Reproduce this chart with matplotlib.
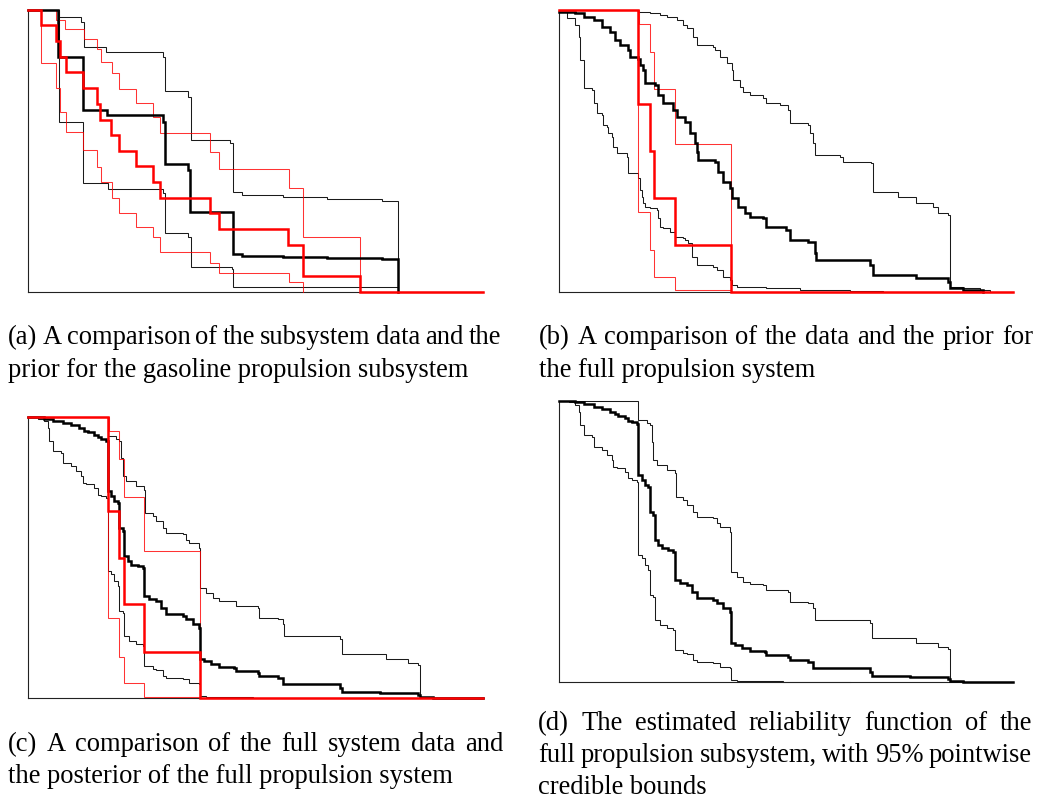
import matplotlib
matplotlib.use("Agg")
import matplotlib.pyplot as plt

plt.rcParams['font.family'] = ['Liberation Serif', 'DejaVu Serif']

# ---- (a) gasoline propulsion subsystem: data (black) vs prior (red) ----
a_dat_x = [0, 6.6, 12.0, 17.4, 29.7, 30.2, 35.2, 35.7, 45.1, 47.0, 56.1, 65.7, 77.8, 81.3]
a_dat_y = [1.0, 0.834, 0.645, 0.627, 0.604, 0.453, 0.432, 0.282, 0.134, 0.128, 0.124, 0.121, 0.117, 0.0]
a_dat_hi_x = [0, 6.8, 11.7, 12.3, 17.1, 29.7, 30.2, 35.2, 35.8, 44.4, 45.1, 47.0, 56.1, 65.7, 77.8, 81.3]
a_dat_hi_y = [1.0, 0.976, 0.959, 0.867, 0.852, 0.834, 0.714, 0.692, 0.538, 0.527, 0.353, 0.343, 0.337, 0.329, 0.323, 0.0]
a_dat_lo_x = [0, 6.8, 12.1, 17.6, 29.7, 30.2, 35.2, 35.8, 44.8, 45.1, 47.0, 81.3]
a_dat_lo_y = [1.0, 0.604, 0.385, 0.363, 0.349, 0.207, 0.193, 0.089, 0.079, 0.018, 0.015, 0.0]

a_pri_x = [0, 2.9, 6.1, 7.0, 8.3, 12.1, 15.2, 15.9, 18.3, 20.0, 23.8, 27.4, 29.0, 40.0, 42.0, 57.2, 60.4, 72.9, 100]
a_pri_y = [1.0, 0.947, 0.891, 0.834, 0.781, 0.722, 0.666, 0.609, 0.556, 0.501, 0.446, 0.391, 0.334, 0.280, 0.222, 0.166, 0.056, 0.0, 0.0]
a_pri_hi_x = [0, 6.2, 8.1, 12.3, 15.2, 16.1, 18.5, 20.0, 23.8, 27.4, 29.1, 40.1, 42.0, 57.3, 60.5, 72.9]
a_pri_hi_y = [1.0, 0.964, 0.931, 0.896, 0.860, 0.817, 0.775, 0.718, 0.669, 0.621, 0.562, 0.497, 0.434, 0.367, 0.195, 0.0]
a_pri_lo_x = [0, 2.9, 6.1, 7.0, 8.3, 12.1, 15.2, 16.1, 18.5, 20.0, 23.8, 27.4, 29.1, 40.1, 42.0, 57.3, 60.5]
a_pri_lo_y = [1.0, 0.811, 0.722, 0.639, 0.568, 0.503, 0.444, 0.391, 0.331, 0.278, 0.231, 0.193, 0.142, 0.101, 0.065, 0.036, 0.0]

# ---- (b) full propulsion system: data (black) vs prior (red) ----
b_dat_x = [0, 3.5, 5.4, 7.6, 9.4, 11.2, 12.3, 13.4, 15.3, 15.6, 17.5, 17.8, 18.6, 18.9, 21.1,
           21.9, 23.0, 25.2, 25.9, 27.7, 28.8, 29.9, 30.3, 30.7, 34.3, 35.1, 36.2, 37.6, 38.0,
           39.5, 40.9, 42.0, 45.0, 45.7, 50.1, 50.8, 54.9, 56.3, 56.7, 68.5, 69.2, 78.7, 85.7,
           86.1, 89.0, 93.4]
b_dat_y = [0.994, 0.988, 0.976, 0.964, 0.941, 0.923, 0.893, 0.876, 0.858, 0.834, 0.825, 0.805,
           0.787, 0.740, 0.734, 0.698, 0.669, 0.645, 0.621, 0.604, 0.562, 0.527, 0.497, 0.468,
           0.462, 0.426, 0.391, 0.367, 0.331, 0.302, 0.278, 0.266, 0.260, 0.231, 0.219, 0.183,
           0.178, 0.136, 0.112, 0.095, 0.059, 0.047, 0.036, 0.012, 0.006, 0.0]
b_dat_hi_x = [0, 17.5, 20.0, 22.2, 23.7, 25.9, 27.4, 28.1, 29.6, 30.3, 34.0, 34.3, 35.4, 36.9,
              38.0, 38.4, 39.8, 40.6, 42.0, 45.0, 45.7, 48.6, 50.5, 50.8, 54.9, 55.2, 56.0, 56.3,
              61.8, 62.6, 68.8, 69.2, 74.7, 78.7, 82.4, 83.5, 85.7, 86.1, 89.0, 92.7, 94.9]
b_dat_hi_y = [1.0, 0.994, 0.988, 0.982, 0.976, 0.964, 0.947, 0.935, 0.905, 0.876, 0.870, 0.858,
              0.834, 0.811, 0.787, 0.751, 0.728, 0.710, 0.698, 0.686, 0.669, 0.663, 0.645, 0.598,
              0.592, 0.562, 0.527, 0.485, 0.479, 0.462, 0.456, 0.355, 0.337, 0.314, 0.302, 0.278,
              0.272, 0.018, 0.012, 0.006, 0.0]
b_dat_lo_x = [0, 1.7, 3.5, 4.3, 4.6, 5.4, 5.5, 7.2, 7.6, 8.3, 9.4, 9.8, 10.5, 10.9, 11.6, 12.0,
              12.7, 14.9, 15.3, 17.5, 17.8, 18.2, 18.6, 18.9, 20.0, 21.5, 21.9, 22.2, 23.0, 24.4,
              25.5, 27.4, 27.7, 28.5, 29.2, 30.3, 34.0, 34.7, 36.2, 37.6, 38.0, 39.1, 42.0, 45.7,
              53.0, 64.0, 71.4]
b_dat_lo_y = [0.994, 0.970, 0.947, 0.905, 0.822, 0.787, 0.722, 0.716, 0.669, 0.633, 0.627, 0.592,
              0.586, 0.562, 0.550, 0.515, 0.491, 0.479, 0.420, 0.402, 0.361, 0.337, 0.314, 0.302,
              0.296, 0.290, 0.260, 0.231, 0.225, 0.213, 0.195, 0.189, 0.183, 0.172, 0.124, 0.095,
              0.089, 0.077, 0.053, 0.041, 0.024, 0.018, 0.015, 0.012, 0.006, 0.002, 0.0]

b_pri_x = [0, 17.5, 20.0, 21.0, 25.5, 37.9, 100]
b_pri_y = [1.0, 0.666, 0.501, 0.334, 0.166, 0.0, 0.0]
b_pri_hi_x = [0, 17.7, 20.0, 21.0, 25.5, 37.9]
b_pri_hi_y = [1.0, 0.950, 0.852, 0.718, 0.524, 0.0]
b_pri_lo_x = [0, 17.5, 20.0, 21.0, 25.5, 37.9]
b_pri_lo_y = [1.0, 0.284, 0.148, 0.053, 0.006, 0.0]

# ---- (d) posterior of full propulsion system (also black in (c)) ----
d_post_x = [0, 3.5, 5.4, 7.6, 9.4, 11.2, 12.3, 13.1, 14.5, 15.3, 16.0, 17.1, 17.5, 18.2, 18.9,
            19.7, 20.0, 20.8, 21.1, 21.9, 22.6, 24.1, 25.2, 25.5, 26.6, 28.1, 29.2, 30.3, 34.0,
            34.7, 36.2, 37.6, 37.9, 38.7, 40.2, 42.0, 45.3, 45.7, 50.5, 50.8, 54.9, 56.0, 68.5,
            69.0, 77.3, 85.7, 86.1, 89.0, 93.4, 100]
d_post_y = [1.0, 0.995, 0.988, 0.980, 0.972, 0.962, 0.953, 0.948, 0.938, 0.929, 0.924, 0.917,
            0.737, 0.719, 0.701, 0.695, 0.607, 0.595, 0.506, 0.488, 0.476, 0.470, 0.464, 0.364,
            0.352, 0.346, 0.322, 0.299, 0.293, 0.281, 0.263, 0.251, 0.139, 0.133, 0.121, 0.111,
            0.109, 0.097, 0.091, 0.079, 0.073, 0.050, 0.038, 0.024, 0.018, 0.012, 0.005, 0.002,
            0.0, 0.0]
d_post_hi_x = [0, 17.5, 19.3, 20.0, 20.4, 20.8, 21.5, 23.7, 25.5, 25.8, 27.4, 28.1, 29.6, 30.3,
               34.0, 34.7, 35.4, 37.6, 37.9, 39.1, 40.6, 42.0, 45.0, 45.7, 50.5, 50.8, 54.9,
               56.0, 56.3, 68.5, 69.0, 78.7, 83.5, 85.7, 86.1, 89.0, 93.4]
d_post_hi_y = [1.0, 0.932, 0.921, 0.915, 0.855, 0.790, 0.773, 0.755, 0.743, 0.660, 0.648, 0.630,
               0.607, 0.589, 0.583, 0.565, 0.553, 0.536, 0.393, 0.376, 0.358, 0.348, 0.346,
               0.328, 0.322, 0.287, 0.281, 0.263, 0.222, 0.210, 0.156, 0.139, 0.127, 0.118,
               0.005, 0.002, 0.0]
d_post_lo_x = [0, 2.1, 3.5, 4.3, 4.6, 5.4, 7.2, 7.6, 9.4, 10.5, 11.6, 12.0, 12.7, 14.5, 15.3,
               16.0, 17.1, 17.5, 18.2, 18.9, 19.7, 20.0, 20.8, 21.1, 22.2, 23.7, 25.2, 25.5,
               27.4, 28.1, 29.6, 30.3, 34.0, 35.4, 37.6, 37.9, 39.1, 49.4, 64.0]
d_post_lo_y = [1.0, 0.995, 0.986, 0.962, 0.915, 0.879, 0.873, 0.838, 0.826, 0.808, 0.790, 0.767,
               0.761, 0.749, 0.725, 0.719, 0.713, 0.453, 0.441, 0.417, 0.399, 0.310, 0.305,
               0.222, 0.204, 0.192, 0.186, 0.115, 0.103, 0.100, 0.079, 0.073, 0.068, 0.056,
               0.050, 0.008, 0.005, 0.002, 0.0]

captions = {
    'a': ["(a) A comparison of the subsystem data and the",
          "prior for the gasoline propulsion subsystem"],
    'b': ["(b) A comparison of the data and the prior for",
          "the full propulsion system"],
    'c': ["(c) A comparison of the full system data and",
          "the posterior of the full propulsion system"],
    'd': ["(d) The estimated reliability function of the",
          "full propulsion subsystem, with 95% pointwise",
          "credible bounds"],
}

W, H = 1039, 802
fig = plt.figure(figsize=(W / 100, H / 100), dpi=100)


def make_axes(left, right, top, bottom):
    ax = fig.add_axes([left / W, 1 - bottom / H, (right - left) / W, (bottom - top) / H])
    ax.set_xlim(0, 100)
    ax.set_ylim(0, 1)
    ax.spines['top'].set_visible(False)
    ax.spines['right'].set_visible(False)
    for s in ('left', 'bottom'):
        ax.spines[s].set_linewidth(0.8)
        ax.spines[s].set_color('#222222')
    ax.set_xticks([])
    ax.set_yticks([])
    return ax


def band(ax, x, y, color, lw, z, alpha=1.0):
    ax.step(x, y, where='post', color=color, lw=lw, zorder=z, alpha=alpha,
            clip_on=False, solid_joinstyle='miter')


thin, thick = 0.75, 1.8
red = '#ff0000'
grey = '#1a1a1a'

ax_a = make_axes(28, 483, 10, 291.7)
band(ax_a, a_dat_hi_x, a_dat_hi_y, grey, thin, 2)
band(ax_a, a_dat_lo_x, a_dat_lo_y, grey, thin, 2)
band(ax_a, a_pri_hi_x, a_pri_hi_y, red, thin, 3, 0.8)
band(ax_a, a_pri_lo_x, a_pri_lo_y, red, thin, 3, 0.8)
band(ax_a, a_dat_x, a_dat_y, 'black', thick, 4)
band(ax_a, a_pri_x, a_pri_y, red, thick, 5)

ax_b = make_axes(559, 1013, 10, 291.7)
band(ax_b, b_dat_hi_x, b_dat_hi_y, grey, thin, 2)
band(ax_b, b_dat_lo_x, b_dat_lo_y, grey, thin, 2)
band(ax_b, b_pri_hi_x, b_pri_hi_y, red, thin, 3, 0.8)
band(ax_b, b_pri_lo_x, b_pri_lo_y, red, thin, 3, 0.8)
band(ax_b, b_dat_x, b_dat_y, 'black', thick, 4)
band(ax_b, b_pri_x, b_pri_y, red, thick, 5)

ax_c = make_axes(28, 483, 417.3, 698.3)
band(ax_c, d_post_hi_x, d_post_hi_y, grey, thin, 2)
band(ax_c, d_post_lo_x, d_post_lo_y, grey, thin, 2)
band(ax_c, b_pri_hi_x, b_pri_hi_y, red, thin, 3, 0.8)
band(ax_c, b_pri_lo_x, b_pri_lo_y, red, thin, 3, 0.8)
band(ax_c, d_post_x, d_post_y, 'black', thick, 4)
band(ax_c, b_pri_x, b_pri_y, red, thick, 5)

ax_d = make_axes(559, 1013, 401, 682.3)
band(ax_d, d_post_hi_x, d_post_hi_y, grey, thin, 2)
band(ax_d, d_post_lo_x, d_post_lo_y, grey, thin, 2)
band(ax_d, d_post_x, d_post_y, 'black', thick, 4)

# captions, justified like the LaTeX subcaptions
fsize = 19.1
renderer = fig.canvas.get_renderer()


def caption(lines, x0, x1, baselines):
    for i, (line, yb) in enumerate(zip(lines, baselines)):
        if i == len(lines) - 1:
            fig.text(x0 / W, 1 - yb / H, line, fontsize=fsize, va='baseline', ha='left')
            continue
        words = line.split(' ')
        txts = [fig.text(0, 1 - yb / H, w, fontsize=fsize, va='baseline', ha='left') for w in words]
        widths = [t.get_window_extent(renderer).width for t in txts]
        gap = (x1 - x0 - sum(widths)) / (len(words) - 1)
        x = x0
        for t, wd in zip(txts, widths):
            t.set_x(x / W)
            x += wd + gap


caption(captions['a'], 8, 501, [344, 377])
caption(captions['b'], 539, 1033, [344, 377])
caption(captions['c'], 8, 503, [751, 783])
caption(captions['d'], 538, 1032, [730, 762, 794])

fig.savefig('out.png', dpi=100)
